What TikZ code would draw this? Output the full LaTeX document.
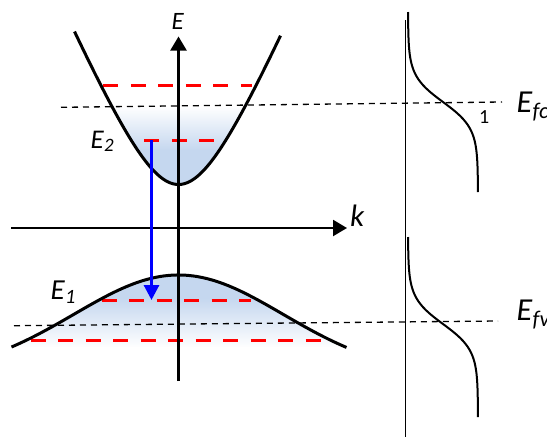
\documentclass[tikz,border=0pt]{standalone}
\usepackage{fontspec}
\setmainfont{Carlito}
\usetikzlibrary{arrows.meta}
\definecolor{bandBlue}{HTML}{C5D7EF}
\definecolor{lvlRed}{HTML}{FF0000}
\definecolor{jumpBlue}{HTML}{0000FF}
\tikzset{
  axis/.style={draw=black, line width=2.2pt, -{Triangle[length=14pt,width=16pt]}},
  band/.style={draw=black, line width=3pt},
  lvl/.style={draw=lvlRed, line width=3pt, dash pattern=on 15pt off 12.5pt},
  fermi/.style={draw=black, line width=1.3pt, dash pattern=on 6pt off 5pt},
  occ/.style={draw=black, line width=2pt},
  lbl/.style={inner sep=0pt, anchor=base west},
  jump/.style={draw=jumpBlue, line width=3pt, -{Triangle[length=15pt,width=15pt]}},
}
\newcommand{\fsz}[1]{\fontsize{#1}{#1}\selectfont}
\newcommand{\bandlbl}[2]{\textit{#1}\textsubscript{\textit{#2}}}

\begin{document}
\begin{tikzpicture}[x=1pt,y=-1pt]
  \useasboundingbox (0,0) rectangle (547,437);
  % filled states
  \begin{scope}
    \clip plot[domain=-104:102,samples=80]
      ({178.5+\x},{298.2-10*sqrt(129.28+5.38*(\x/10)*(\x/10))}) -- cycle;
    \shade[top color=white, bottom color=bandBlue] (60,106) rectangle (300,150);
    \fill[bandBlue] (60,149.5) rectangle (300,190);
  \end{scope}
  \begin{scope}
    \clip plot[domain=-167:168,samples=80]
      ({178.5+\x},{275+100*(1-exp(-((\x/100)*(\x/100))/2.1908))}) -- cycle;
    \fill[bandBlue] (0,270) rectangle (360,298.5);
    \shade[top color=bandBlue, bottom color=white] (0,298) rectangle (360,348);
  \end{scope}
  % levels
  \draw[lvl] (103.3,85) -- (251.7,85);
  \draw[lvl] (144.3,140) -- (216.7,140);
  \draw[lvl] (101.7,300.7) -- (250.7,300.7);
  \draw[lvl] (30.7,340) -- (322.7,340);
  % quasi Fermi levels
  \coordinate (fcL) at (61,107.3);
  \coordinate (fcR) at (502,102);
  \coordinate (fvL) at (14,325.7);
  \coordinate (fvR) at (498,321);
  \draw[fermi] (fcL) -- (fcR);
  \draw[fermi] (fvL) -- (fvR);
  % bands
  \draw[band] plot[domain=-104:102,samples=80]
    ({178.5+\x},{298.2-10*sqrt(129.28+5.38*(\x/10)*(\x/10))});
  \draw[band] plot[domain=-167:168,samples=80]
    ({178.5+\x},{275+100*(1-exp(-((\x/100)*(\x/100))/2.1908))});
  % axes
  \coordinate (Ebot) at (178.5,381);
  \coordinate (Etop) at (178.5,36.5);
  \coordinate (kleft) at (11,228);
  \coordinate (kright) at (347,228);
  \draw[axis] (Ebot) -- (Etop);
  \draw[axis] (kleft) -- (kright);
  \node[lbl,font=\fsz{25}\itshape] (Elbl) at (171.5,29.5) {E};
  \node[lbl,font=\fsz{31}\itshape] (klbl) at (350,226.7) {k};
  \node[lbl,font=\fsz{27}] (E2lbl) at (90.5,148) {\bandlbl{E}{2}};
  \node[lbl,font=\fsz{29}] (E1lbl) at (50.5,299.5) {\bandlbl{E}{1}};
  % transition
  \coordinate (upper) at (151.5,140);
  \coordinate (lower) at (151.5,300);
  \draw[jump] (upper) -- (lower);
  % occupation
  \coordinate (vtop) at (405.5,20);
  \coordinate (vbot) at (405.5,437);
  \draw[line width=1.3pt] (vtop) -- (vbot);
  \draw[occ] plot[domain=12:192,samples=60] ({408+70/(1+exp(-(\x-102)/13))},\x);
  \draw[occ] plot[domain=237:417,samples=60] ({408+70/(1+exp(-(\x-324)/13))},\x);
  \node[lbl,font=\fsz{20}] (one) at (479,123.5) {1};
  \node[lbl,font=\fsz{32}] (Efc) at (516.5,112) {\bandlbl{E}{fc}};
  \node[lbl,font=\fsz{32}] (Efv) at (516.5,320) {\bandlbl{E}{fv}};
\end{tikzpicture}
\end{document}
